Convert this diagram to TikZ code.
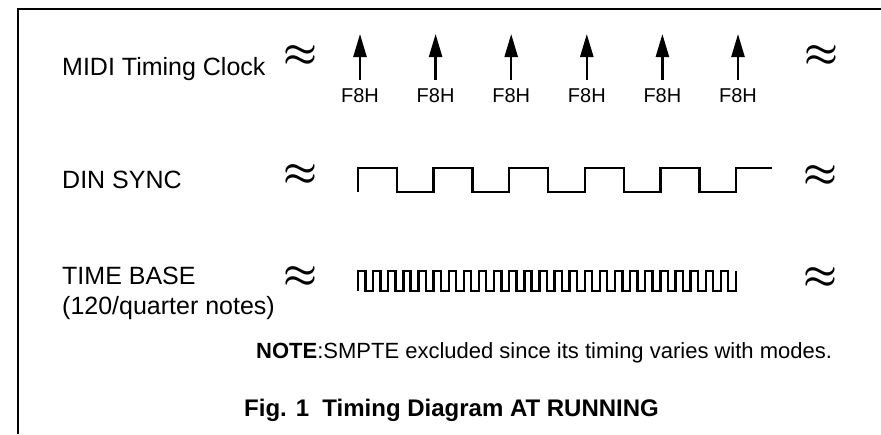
\documentclass[tikz,border=0pt]{standalone}
\usepackage{fontspec}
\setmainfont{Liberation Sans}
\usepackage{graphicx}
\usepackage{tikz}
\usetikzlibrary{arrows.meta}

\tikzset{
  sig/.style={anchor=base west, inner sep=0pt, font=\fontsize{25}{30}\selectfont},
  brk/.style={inner sep=0pt},
  fh/.style={anchor=base, inner sep=0pt, font=\fontsize{20}{24}\selectfont},
  clk/.style={line width=2.4pt, -{Triangle[length=23pt,width=13pt]}},
  wave/.style={line width=2.4pt, line join=miter},
}
\newcommand{\brkmark}{\scalebox{3.8}{\boldmath$\approx$}}

\begin{document}
\begin{tikzpicture}[x=1pt, y=-1pt]
    \useasboundingbox (0,0) rectangle (881,434);
    % Frame
    \draw[line width=2.2pt] (881,9) -- (18,9) -- (18,434);
    % Signal names
    \node (midi) at (62,75) [sig] {MIDI Timing Clock};
    \node (din) at (62,188) [sig] {DIN SYNC};
    \node (tbase) at (62,284) [sig] {TIME BASE};
    \node (tbres) at (62,314) [sig] {(120/quarter notes)};
    % Break marks
    \node (bm1) at (300,56) [brk] {\brkmark};
    \node (bm2) at (821,56) [brk] {\brkmark};
    \node (bm3) at (300,175) [brk] {\brkmark};
    \node (bm4) at (820,176) [brk] {\brkmark};
    \node (bm5) at (300,277) [brk] {\brkmark};
    \node (bm6) at (820,278) [brk] {\brkmark};
    % MIDI clock messages
    \foreach \i in {0,...,5} {
        \node (f\i) at (360+75.6*\i,102) [fh] {F8H};
        \coordinate (t\i) at (360+75.6*\i,34);
        \draw[clk] ([yshift=8pt]f\i.north) -- (t\i);
    }
    % DIN SYNC
    \draw[wave] (358,192) \foreach \k in {1,...,5} {
        -- ++(0,-24) -- ++(39,0) -- ++(0,24) -- ++(36.6,0) } -- ++(0,-24) -- ++(36,0);
    % Time base
    \draw[wave] (358,291) \foreach \k in {1,...,25} {
        -- ++(0,-20) -- ++(7.3,0) -- ++(0,20) -- ++(7.82,0) } -- ++(0,-20);
    % Note and caption
    \node (note) at (256,358) [anchor=base west, inner sep=0pt, font=\fontsize{22}{26}\selectfont]
        {\textbf{NOTE}:SMPTE excluded since its timing varies with modes.};
    \node (caption) at (244,416) [anchor=base west, inner sep=0pt, font=\fontsize{24}{28}\selectfont\bfseries]
        {Fig. 1\ \ Timing Diagram AT RUNNING};
\end{tikzpicture}
\end{document}
